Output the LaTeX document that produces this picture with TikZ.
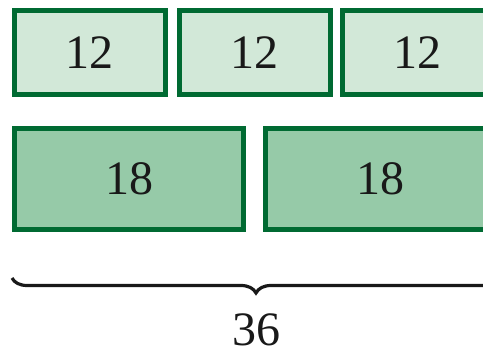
\documentclass[tikz,border=0pt]{standalone}
\usepackage{fontspec}
\setmainfont{Liberation Serif}
\usetikzlibrary{decorations.pathreplacing}
\definecolor{boxline}{RGB}{0,106,50}
\definecolor{lightfill}{RGB}{210,232,216}
\definecolor{midfill}{RGB}{150,202,168}
\tikzset{
  x=1pt, y=1pt,
  numbox/.style={draw=boxline, line width=5pt, inner sep=0pt, outer sep=0pt,
    font=\fontsize{48}{48}\selectfont, text=black!90},
  twelve/.style={numbox, fill=lightfill, minimum width=151pt, minimum height=84pt},
  eighteen/.style={numbox, fill=midfill, minimum width=229pt, minimum height=101pt},
  bracestyle/.style={decorate, decoration={brace, amplitude=15pt, aspect=0.5}, line width=3.2pt, black!90}
}
\begin{document}
\begin{tikzpicture}
\useasboundingbox (0,0) rectangle (483,356);
\clip (0,0) rectangle (483,356);
\node[twelve] (a1) at (90,303.5) {12};
\node[twelve] (a2) at (254.5,303.5) {12};
\node[twelve] (a3) at (417.5,303.5) {12};
\node[eighteen] (b1) at (129,177) {18};
\node[eighteen] (b2) at (380,177) {18};
\coordinate (br) at (500,78);
\coordinate (bl) at (12,78);
\draw[bracestyle] (br) -- (bl);
\node[font=\fontsize{48}{48}\selectfont, text=black!90, anchor=base, inner sep=0pt] (total) at (256,10) {36};
\end{tikzpicture}
\end{document}
